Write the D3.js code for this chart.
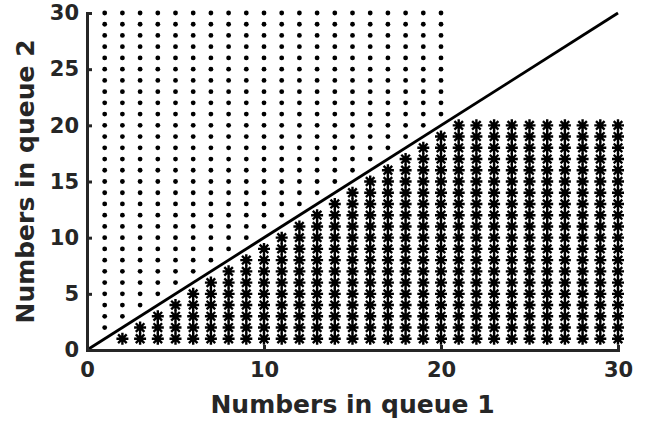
<!DOCTYPE html>
<html>
<head>
<meta charset="utf-8">
<style>
    body { margin: 0; background: #fff; }
    .axis path, .axis line { stroke: #262626; stroke-width: 3; }
    .axis text { font-family: "DejaVu Sans"; font-weight: bold; font-size: 21px; fill: #262626; }
    .label { font-family: "DejaVu Sans"; font-weight: bold; font-size: 25px; fill: #262626; }
</style>
</head>
<script src="https://d3js.org/d3.v7.min.js"></script>
<body>
    <svg id="chart"></svg>
</body>
<script>
    // states (queue1, queue2)
    let xTicks = [0, 10, 20, 30]
    let yTicks = [0, 5, 10, 15, 20, 25, 30]
    let diagonal = [[0, 0], [30, 30]]

    // dot states: queue1 = 1..20, queue2 above the diagonal up to 30
    let dotCols = d3.range(1, 21)
    let dotTop = 30
    // asterisk states: queue1 = 2..30, queue2 below the diagonal, capped at 20
    let starCols = d3.range(2, 31)
    let starCap = 20

    let dots = []
    dotCols.forEach(x => { for (let y = x + 1; y <= dotTop; y++) dots.push([x, y]) })
    let stars = []
    starCols.forEach(x => { for (let y = 1; y <= Math.min(x - 1, starCap); y++) stars.push([x, y]) })

    function getConfig(){
        let width = 649, height = 421
        let margin = { top: 13, bottom: 71, left: 87, right: 31 }
        let bodyHeight = height - margin.top - margin.bottom
        let bodyWidth = width - margin.left - margin.right
        let container = d3.select('#chart').attr('width', width).attr('height', height)
        return { width, height, margin, bodyHeight, bodyWidth, container }
    }

    function draw(){
        let config = getConfig()
        let { margin, container, bodyWidth, bodyHeight } = config

        let xScale = d3.scaleLinear().domain([0, 30]).range([0, bodyWidth])
        let yScale = d3.scaleLinear().domain([0, 30]).range([bodyHeight, 0])

        let body = container.append('g')
            .attr('transform', `translate(${margin.left},${margin.top})`)

        // dots
        body.selectAll('.dot')
            .data(dots)
            .enter().append('circle')
            .attr('cx', d => xScale(d[0]))
            .attr('cy', d => yScale(d[1]))
            .attr('r', 2.4)
            .attr('fill', '#000')

        // asterisks
        let star = 'M-6,0L6,0M0,-6L0,6M-4.3,-4.3L4.3,4.3M-4.3,4.3L4.3,-4.3'
        body.selectAll('.star')
            .data(stars)
            .enter().append('path')
            .attr('transform', d => `translate(${xScale(d[0])},${yScale(d[1])})`)
            .attr('d', star)
            .attr('stroke', '#000')
            .attr('stroke-width', 2.4)
            .attr('fill', 'none')

        // diagonal
        body.append('path')
            .datum(diagonal)
            .attr('d', d3.line().x(d => xScale(d[0])).y(d => yScale(d[1])))
            .attr('stroke', '#000')
            .attr('stroke-width', 2.8)
            .attr('fill', 'none')

        // axes with inward ticks
        let axisX = d3.axisBottom(xScale).tickValues(xTicks).tickSizeInner(-5).tickSizeOuter(0).tickPadding(12)
        body.append('g')
            .attr('class', 'axis')
            .attr('transform', `translate(0,${bodyHeight})`)
            .call(axisX)

        let axisY = d3.axisLeft(yScale).tickValues(yTicks).tickSizeInner(-5).tickSizeOuter(0).tickPadding(8)
        body.append('g')
            .attr('class', 'axis')
            .call(axisY)

        container.selectAll('.axis .domain').attr('stroke-linecap', 'square')

        container.append('text')
            .attr('class', 'label')
            .attr('x', margin.left + bodyWidth / 2)
            .attr('y', 413)
            .attr('text-anchor', 'middle')
            .text('Numbers in queue 1')

        container.append('text')
            .attr('class', 'label')
            .attr('transform', `translate(34,${margin.top + bodyHeight / 2}) rotate(-90)`)
            .attr('text-anchor', 'middle')
            .text('Numbers in queue 2')
    }

    draw()
</script>
</html>
